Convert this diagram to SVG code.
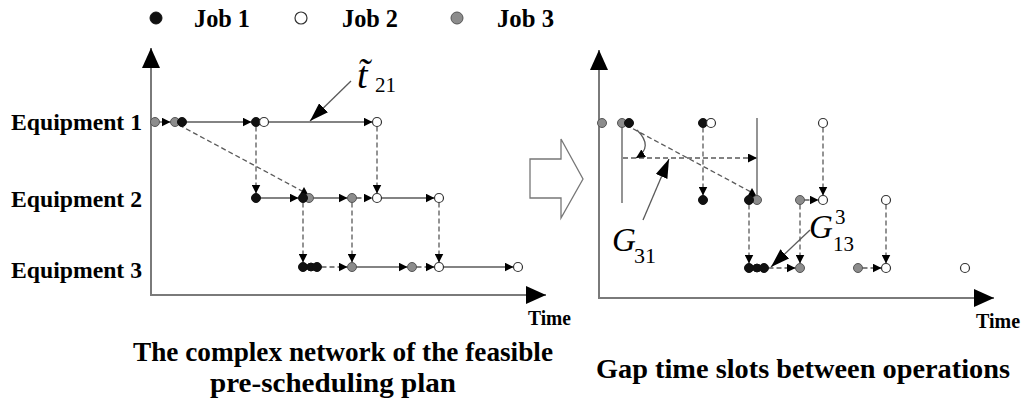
<svg xmlns="http://www.w3.org/2000/svg" width="1030" height="400" viewBox="0 0 1030 400">
  <defs>
    <style>
      .j1 { fill: #111; stroke: #111; stroke-width: 1; }
      .j2 { fill: #fff; stroke: #333; stroke-width: 1.2; }
      .j3 { fill: #8c8c8c; stroke: #555; stroke-width: 1; }
      .sl { stroke: #5a5a5a; stroke-width: 1.3; fill: none; }
      .dl { stroke: #5a5a5a; stroke-width: 1.3; fill: none; stroke-dasharray: 5 3; }
      .ax { stroke: #7a7a7a; stroke-width: 2; fill: none; }
      .tri { fill: #000; }
      .lbl { font-family: "Liberation Serif", "Times New Roman", serif; font-weight: bold; fill: #000; }
      .math { font-family: "Liberation Serif", "DejaVu Serif", serif; font-style: italic; fill: #000; }
      .num { font-family: "Liberation Serif", "DejaVu Serif", serif; fill: #000; }
    </style>
    <marker id="ah" viewBox="0 0 10 10" refX="10" refY="5" markerWidth="9" markerHeight="9" markerUnits="userSpaceOnUse" orient="auto">
      <path d="M0,0 L10,5 L0,10 z" fill="#000"/>
    </marker>
    <marker id="axh" viewBox="0 0 20 18" refX="20" refY="9" markerWidth="20" markerHeight="18" markerUnits="userSpaceOnUse" orient="auto">
      <path d="M0,0 L20,9 L0,18 z" fill="#000"/>
    </marker>
    <marker id="ptr" viewBox="0 0 18 12" refX="18" refY="6" markerWidth="19" markerHeight="13" markerUnits="userSpaceOnUse" orient="auto">
      <path d="M0,0 L18,6 L0,12 z" fill="#000"/>
    </marker>
  </defs>

  <rect width="1030" height="400" fill="#fff"/>

  <!-- legend -->
  <g id="legend">
    <circle class="j1" cx="156" cy="18" r="6"/>
    <text class="lbl" x="194" y="27" font-size="25" textLength="56" lengthAdjust="spacingAndGlyphs">Job 1</text>
    <circle class="j2" cx="301" cy="18" r="6"/>
    <text class="lbl" x="342" y="27" font-size="25" textLength="56" lengthAdjust="spacingAndGlyphs">Job 2</text>
    <circle class="j3" cx="457" cy="18" r="6"/>
    <text class="lbl" x="497" y="27" font-size="25" textLength="57" lengthAdjust="spacingAndGlyphs">Job 3</text>
  </g>

  <!-- axes -->
  <g id="axes">
    <line class="ax" x1="151" y1="296" x2="151" y2="48" marker-end="url(#axh)"/>
    <line class="ax" x1="150" y1="295" x2="546" y2="295" marker-end="url(#axh)"/>
    <line class="ax" x1="599" y1="299" x2="599" y2="50" marker-end="url(#axh)"/>
    <line class="ax" x1="598" y1="298" x2="994" y2="298" marker-end="url(#axh)"/>
    <text class="lbl" x="528" y="325" font-size="22" textLength="43" lengthAdjust="spacingAndGlyphs">Time</text>
    <text class="lbl" x="976" y="328" font-size="22" textLength="44" lengthAdjust="spacingAndGlyphs">Time</text>
  </g>

  <!-- equipment rows -->
  <g id="equipment-labels" class="lbl" font-size="24" text-anchor="end">
    <text id="eq1" x="142" y="130" textLength="131" lengthAdjust="spacingAndGlyphs">Equipment 1</text>
    <text id="eq2" x="142" y="207" textLength="131" lengthAdjust="spacingAndGlyphs">Equipment 2</text>
    <text id="eq3" x="142" y="278" textLength="131" lengthAdjust="spacingAndGlyphs">Equipment 3</text>
  </g>

  <!-- left: network of the pre-scheduling plan -->
  <g id="left-connectors">
    <!-- equipment 1 -->
    <line class="sl" x1="159.5" y1="122" x2="170.5" y2="122" marker-end="url(#ah)"/>
    <line class="sl" x1="186.5" y1="122" x2="251.5" y2="122" marker-end="url(#ah)"/>
    <line class="sl" x1="268.5" y1="122" x2="372.5" y2="122" marker-end="url(#ah)"/>
    <!-- equipment 2 -->
    <line class="sl" x1="260.5" y1="198" x2="298.5" y2="198" marker-end="url(#ah)"/>
    <line class="sl" x1="313.5" y1="198" x2="347.5" y2="198" marker-end="url(#ah)"/>
    <line class="dl" x1="356.5" y1="198" x2="372.5" y2="198" marker-end="url(#ah)"/>
    <line class="sl" x1="381.5" y1="198" x2="434.5" y2="198" marker-end="url(#ah)"/>
    <!-- equipment 3 -->
    <line class="dl" x1="321.5" y1="267" x2="347.5" y2="267" marker-end="url(#ah)"/>
    <line class="sl" x1="356.5" y1="267" x2="407.5" y2="267" marker-end="url(#ah)"/>
    <line class="dl" x1="416.5" y1="267" x2="434.5" y2="267" marker-end="url(#ah)"/>
    <line class="sl" x1="443.5" y1="267" x2="513.5" y2="267" marker-end="url(#ah)"/>
    <!-- transfers between equipment -->
    <line class="dl" x1="256" y1="126.5" x2="256" y2="193.5" marker-end="url(#ah)"/>
    <line class="dl" x1="377" y1="126.5" x2="377" y2="193.5" marker-end="url(#ah)"/>
    <line class="dl" x1="303" y1="202.5" x2="303" y2="262.5" marker-end="url(#ah)"/>
    <line class="dl" x1="352" y1="202.5" x2="352" y2="262.5" marker-end="url(#ah)"/>
    <line class="dl" x1="439" y1="202.5" x2="439" y2="262.5" marker-end="url(#ah)"/>
    <line class="dl" x1="179" y1="125" x2="302" y2="191"/>
    <path class="tri" d="M299,196 L304,187 L309,196 z"/>
    <path class="tri" d="M305,263 L311,267 L305,271 z"/>
    <!-- t~21 pointer -->
    <line class="sl" x1="351" y1="81" x2="310" y2="121" marker-end="url(#ptr)"/>
  </g>
  <g id="left-operations">
    <circle class="j3" cx="155" cy="122" r="4.5"/>
    <circle class="j3" cx="175" cy="122" r="4.5"/>
    <circle class="j1" cx="182" cy="122" r="4.5"/>
    <circle class="j1" cx="256" cy="122" r="4.5"/>
    <circle class="j2" cx="264" cy="122" r="4.5"/>
    <circle class="j2" cx="377" cy="122" r="4.5"/>

    <circle class="j1" cx="256" cy="198" r="4.5"/>
    <circle class="j3" cx="309" cy="198" r="4.5"/>
    <circle class="j1" cx="303" cy="198" r="4.5"/>
    <circle class="j3" cx="352" cy="198" r="4.5"/>
    <circle class="j2" cx="377" cy="198" r="4.5"/>
    <circle class="j2" cx="439" cy="198" r="4.5"/>

    <circle class="j1" cx="303" cy="267" r="4.5"/>
    <circle class="j1" cx="311" cy="267" r="4"/>
    <circle class="j1" cx="317" cy="267" r="4.5"/>
    <circle class="j3" cx="352" cy="267" r="4.5"/>
    <circle class="j3" cx="412" cy="267" r="4.5"/>
    <circle class="j2" cx="439" cy="267" r="4.5"/>
    <circle class="j2" cx="518" cy="267" r="4.5"/>
  </g>
  <g id="label-t21">
    <text class="math" x="357" y="88" font-size="38">t&#x0303;</text>
    <text class="num" x="375" y="92" font-size="21">21</text>
  </g>

  <!-- transition arrow -->
  <polygon id="transition" points="530,159 561,159 561,139 583,179 561,218 561,198 530,198" fill="#fff" stroke="#777" stroke-width="1.3"/>

  <!-- right: gap time slots -->
  <g id="right-connectors">
    <line class="sl" x1="622" y1="123" x2="622" y2="203"/>
    <line class="sl" x1="757" y1="118" x2="757" y2="197"/>
    <line class="dl" x1="623" y1="158" x2="757" y2="158" marker-end="url(#ah)"/>
    <path class="sl" d="M637,130 Q654,147 636,158" marker-end="url(#ah)"/>
    <line class="dl" x1="626" y1="125" x2="751" y2="192"/>
    <path class="tri" d="M747,197 L752,188 L757,197 z"/>
    <line class="dl" x1="703" y1="127.5" x2="703" y2="195.5" marker-end="url(#ah)"/>
    <line class="dl" x1="823" y1="127.5" x2="823" y2="195.5" marker-end="url(#ah)"/>
    <line class="dl" x1="804.5" y1="200" x2="818.5" y2="200" marker-end="url(#ah)"/>
    <line class="dl" x1="749" y1="204.5" x2="749" y2="263.5" marker-end="url(#ah)"/>
    <line class="dl" x1="800" y1="204.5" x2="800" y2="263.5" marker-end="url(#ah)"/>
    <line class="dl" x1="886" y1="204.5" x2="886" y2="263.5" marker-end="url(#ah)"/>
    <line class="dl" x1="768.5" y1="268" x2="795.5" y2="268" marker-end="url(#ah)"/>
    <line class="dl" x1="862.5" y1="268" x2="881.5" y2="268" marker-end="url(#ah)"/>
    <path class="tri" d="M751,264 L757,268 L751,272 z"/>
    <!-- G31 and G13 pointers -->
    <line class="sl" x1="643" y1="220" x2="669" y2="159" marker-end="url(#ptr)"/>
    <line class="sl" x1="810" y1="230" x2="771" y2="267" marker-end="url(#ptr)"/>
  </g>
  <g id="right-operations">
    <circle class="j3" cx="602" cy="123" r="4.5"/>
    <circle class="j3" cx="622" cy="123" r="4.5"/>
    <circle class="j1" cx="629" cy="123" r="4.5"/>
    <circle class="j1" cx="703" cy="123" r="4.5"/>
    <circle class="j2" cx="711" cy="123" r="4.5"/>
    <circle class="j2" cx="823" cy="123" r="4.5"/>

    <circle class="j1" cx="703" cy="200" r="4.5"/>
    <circle class="j3" cx="757" cy="200" r="4.5"/>
    <circle class="j1" cx="749" cy="200" r="4.5"/>
    <circle class="j3" cx="800" cy="200" r="4.5"/>
    <circle class="j2" cx="823" cy="200" r="4.5"/>
    <circle class="j2" cx="886" cy="200" r="4.5"/>

    <circle class="j1" cx="749" cy="268" r="4.5"/>
    <circle class="j1" cx="757" cy="268" r="4"/>
    <circle class="j1" cx="764" cy="268" r="4.5"/>
    <circle class="j3" cx="800" cy="268" r="4.5"/>
    <circle class="j3" cx="858" cy="268" r="4.5"/>
    <circle class="j2" cx="886" cy="268" r="4.5"/>
    <circle class="j2" cx="965" cy="268" r="4.5"/>
  </g>
  <g id="label-G31">
    <text class="math" x="612" y="251" font-size="33">G</text>
    <text class="num" x="634" y="263" font-size="22">31</text>
  </g>
  <g id="label-G13">
    <text class="math" x="809" y="238" font-size="33">G</text>
    <text class="num" x="835" y="224" font-size="21">3</text>
    <text class="num" x="833" y="251" font-size="21">13</text>
  </g>

  <!-- captions -->
  <g id="captions" class="lbl" font-size="28" text-anchor="middle">
    <text x="343" y="361" textLength="420" lengthAdjust="spacingAndGlyphs">The complex network of the feasible</text>
    <text x="333" y="392" textLength="246" lengthAdjust="spacingAndGlyphs">pre-scheduling plan</text>
    <text x="803" y="378" textLength="414" lengthAdjust="spacingAndGlyphs">Gap time slots between operations</text>
  </g>
</svg>
